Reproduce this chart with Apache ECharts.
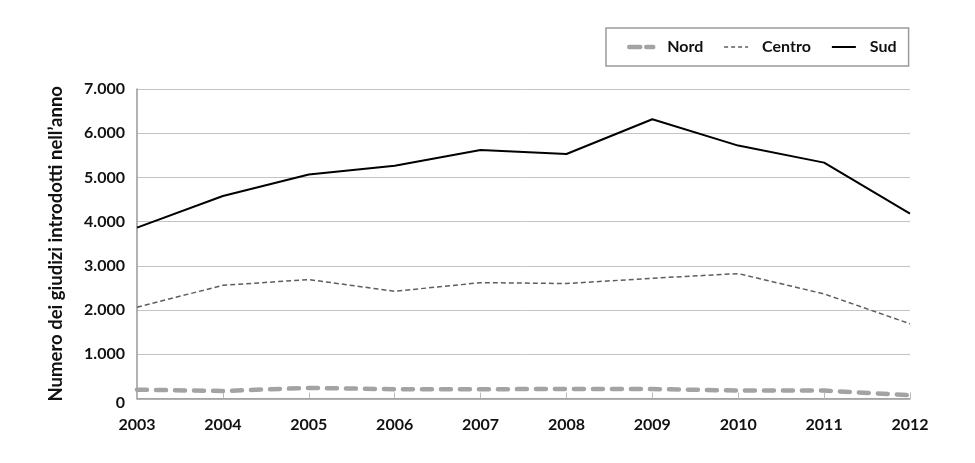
<!DOCTYPE html>
<html>
<head>
<meta charset="utf-8">
<script src="https://cdn.jsdelivr.net/npm/echarts@6/dist/echarts.min.js"></script>
<style>
html,body{margin:0;padding:0;background:#fff;}
#chart{width:975px;height:463px;}
</style>
</head>
<body>
<div id="chart"></div>
<script>
const years = ['2003','2004','2005','2006','2007','2008','2009','2010','2011','2012'];
const nord = [200, 170, 240, 210, 210, 215, 215, 180, 180, 75];
const centro = [2065, 2560, 2690, 2425, 2620, 2600, 2720, 2825, 2365, 1690];
const sud = [3865, 4580, 5065, 5265, 5620, 5530, 6315, 5720, 5335, 4180];
const yTitle = 'Numero dei giudizi introdotti nell\u2019anno';

const FONT = 'Lato';
const lblStyle = {fontFamily: FONT, fontWeight: 'bold', fontSize: 16, color: '#111'};
const chart = echarts.init(document.getElementById('chart'), null, {renderer:'canvas'});
chart.setOption({
  animation: false,
  backgroundColor: '#fff',
  textStyle: {fontFamily: FONT},
  grid: {left: 137, right: 65, top: 89, bottom: 64.5},
  legend: {
    left: 606, top: 28,
    padding: [11, 12, 11, 21],
    itemGap: 20,
    itemWidth: 24, itemHeight: 14,
    borderColor: '#9a9a9a', borderWidth: 1.5,
    itemStyle: {opacity: 0},
    textStyle: {fontFamily: FONT, fontWeight: 'bold', fontSize: 16, color: '#111', padding: [0, 0, 0, 9]},
    data: [
      {name: 'Nord', lineStyle: {width: 4.5, type: [11, 6], cap: 'round', color: '#a3a3a3'}},
      {name: 'Centro', lineStyle: {width: 1.5, type: [4, 3], color: '#5e5e5e'}},
      {name: 'Sud', lineStyle: {width: 2, color: '#000'}}
    ]
  },
  xAxis: {
    type: 'category', data: years, boundaryGap: false,
    offset: 4.5,
    axisLine: {lineStyle: {color: '#999', width: 1.5}},
    axisTick: {inside: true, length: 6, lineStyle: {color: '#bbb', width: 1}},
    axisLabel: Object.assign({margin: 14}, lblStyle)
  },
  yAxis: {
    type: 'value', min: 0, max: 7000, interval: 1000,
    name: yTitle, nameLocation: 'middle', nameGap: 71, nameRotate: 90,
    nameTextStyle: {fontFamily: FONT, fontWeight: 'bold', fontSize: 18.5, color: '#111'},
    axisLine: {show: true, lineStyle: {color: '#999', width: 1.5}},
    axisTick: {show: false},
    splitLine: {lineStyle: {color: '#c4c4c4', width: 1}},
    axisLabel: Object.assign({margin: 12,
      formatter: v => v === 0 ? '{z|0}' : (v/1000).toFixed(0) + '.000',
      rich: {z: Object.assign({padding: [9, 0, 0, 0]}, lblStyle)}}, lblStyle)
  },
  series: [
    {name: 'Nord', type: 'line', data: nord, symbol: 'none', z: 3,
     lineStyle: {color: '#a3a3a3', width: 4.5, type: [10, 9], cap: 'round'},
     itemStyle: {color: '#a3a3a3'}},
    {name: 'Centro', type: 'line', data: centro, symbol: 'none', z: 4,
     lineStyle: {color: '#5e5e5e', width: 1.5, type: [5, 3]},
     itemStyle: {color: '#5e5e5e'}},
    {name: 'Sud', type: 'line', data: sud, symbol: 'none', z: 5,
     lineStyle: {color: '#000', width: 2},
     itemStyle: {color: '#000'}}
  ]
});
</script>
</body>
</html>
